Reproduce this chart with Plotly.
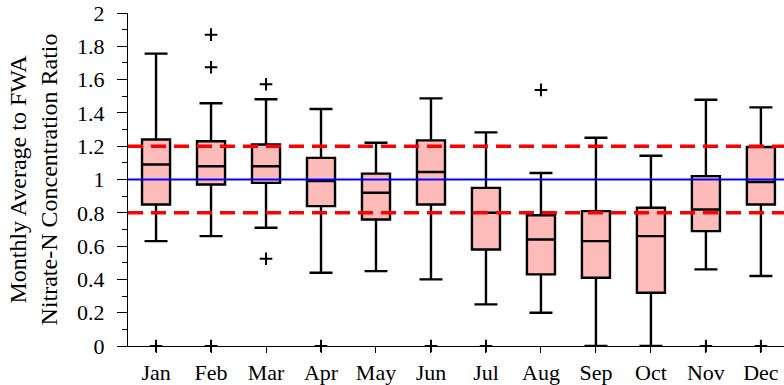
import plotly.graph_objects as go

months = ["Jan", "Feb", "Mar", "Apr", "May", "Jun", "Jul", "Aug", "Sep", "Oct", "Nov", "Dec"]
lower_whisker = [0.63, 0.66, 0.71, 0.44, 0.45, 0.40, 0.25, 0.20, 0.0, 0.0, 0.46, 0.42]
q1 = [0.85, 0.97, 0.98, 0.84, 0.76, 0.85, 0.58, 0.43, 0.41, 0.32, 0.69, 0.85]
median = [1.09, 1.08, 1.08, 0.99, 0.92, 1.045, 0.80, 0.64, 0.63, 0.66, 0.82, 0.985]
q3 = [1.24, 1.23, 1.21, 1.13, 1.035, 1.235, 0.95, 0.785, 0.81, 0.83, 1.02, 1.195]
upper_whisker = [1.756, 1.458, 1.482, 1.423, 1.221, 1.487, 1.283, 1.039, 1.251, 1.143, 1.479, 1.433]

outlier_months = ["Jan", "Feb", "Feb", "Feb", "Mar", "Mar", "Apr", "Jun", "Jul", "Aug", "Nov", "Dec"]
outlier_values = [0.0, 0.0, 1.674, 1.87, 1.572, 0.524, 0.0, 0.0, 0.0, 1.538, 0.0, 0.0]

ref_line = 1.0
band = [0.8, 1.2]
y_title = "Monthly Average to FWA<br>Nitrate-N Concentration Ratio"

FONT = "Liberation Serif"

fig = go.Figure()
fig.add_trace(go.Box(
    x=months,
    q1=q1, median=median, q3=q3,
    lowerfence=lower_whisker, upperfence=upper_whisker,
    fillcolor="rgb(255,186,186)",
    line=dict(color="black", width=2.4),
    width=0.51,
    whiskerwidth=0.82,
    boxpoints=False,
    showlegend=False,
    hoverinfo="skip",
))
fig.add_trace(go.Scatter(
    x=outlier_months, y=outlier_values, mode="markers",
    marker=dict(symbol="cross-thin-open", size=9, color="black",
                line=dict(color="black", width=2)),
    showlegend=False, cliponaxis=False, hoverinfo="skip",
))

for b in band:
    fig.add_shape(type="line", xref="paper", x0=0, x1=1, yref="y", y0=b, y1=b,
                  line=dict(color="rgb(255,0,0)", width=3.5, dash="15px,8px"), layer="above")
fig.add_shape(type="line", xref="paper", x0=0, x1=1, yref="y", y0=ref_line, y1=ref_line,
              line=dict(color="rgb(0,0,255)", width=2), layer="above")

fig.update_layout(
    width=784, height=385,
    margin=dict(l=128, r=0, t=13, b=39),
    plot_bgcolor="white", paper_bgcolor="white",
    xaxis=dict(
        type="category", range=[-0.51, 11.42],
        showgrid=False, zeroline=False,
        showline=True, linecolor="black", linewidth=1.2,
        ticks="outside", ticklen=6, tickcolor="black", tickwidth=1,
        tickfont=dict(family=FONT, size=22, color="black"),
    ),
    yaxis=dict(
        range=[0, 2], dtick=0.2, tickformat="~g",
        showgrid=False, zeroline=False,
        showline=True, linecolor="black", linewidth=1.2,
        ticks="outside", ticklen=10, tickcolor="black", tickwidth=1,
        ticklabelstandoff=8,
        minor=dict(dtick=0.1, ticks="outside", ticklen=5, tickcolor="black", tickwidth=1, showgrid=False),
        tickfont=dict(family=FONT, size=22, color="black"),
        title=dict(text=y_title, font=dict(family=FONT, size=24, color="black"), standoff=12),
    ),
)

fig.write_html("out.html")
